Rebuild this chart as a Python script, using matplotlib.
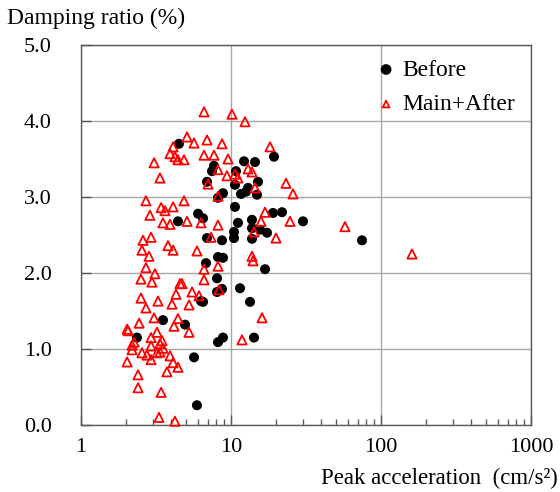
import matplotlib
matplotlib.use("Agg")
import matplotlib.pyplot as plt
from matplotlib.ticker import FixedLocator, FixedFormatter, LogLocator, NullFormatter

plt.rcParams['font.family'] = ['Liberation Serif', 'DejaVu Serif']

# Peak acceleration (cm/s^2) and damping ratio (%) before the main shock
before_acc = [4.50, 7.70, 7.47, 10.80, 12.21, 14.45, 19.35, 6.92, 10.63, 15.14,
              12.99, 12.59, 11.66, 14.91, 8.84, 8.19, 10.63, 6.03, 6.51, 4.43,
              19.05, 21.88, 30.2, 11.13, 13.8, 13.8, 15.61, 17.38, 10.47, 10.47,
              8.71, 13.8, 6.92, 8.19, 8.84, 6.81, 16.86, 8.07, 11.48, 8.07,
              8.71, 6.31, 6.51, 13.39, 3.52, 4.94, 2.36, 5.67, 5.93, 14.23,
              8.19, 8.84, 74.7]
before_damp = [3.70, 3.41, 3.34, 3.34, 3.47, 3.46, 3.53, 3.20, 3.16, 3.20,
               3.12, 3.07, 3.04, 3.03, 3.05, 2.99, 2.87, 2.78, 2.72, 2.68,
               2.79, 2.80, 2.68, 2.66, 2.70, 2.59, 2.57, 2.53, 2.54, 2.46,
               2.43, 2.45, 2.46, 2.21, 2.20, 2.13, 2.05, 1.93, 1.80, 1.75,
               1.79, 1.63, 1.62, 1.62, 1.38, 1.32, 1.15, 0.89, 0.26, 1.15,
               1.09, 1.15, 2.43]

# Main shock and aftershocks
after_acc = [6.61, 10.15, 12.4, 5.09, 5.67, 6.92, 8.71, 4.11, 3.92, 4.23,
             4.43, 4.86, 6.61, 7.70, 9.55, 18.2, 3.07, 3.36, 8.19, 12.99,
             13.8, 9.40, 10.63, 11.13, 7.03, 14.45, 23.26, 25.91, 8.19, 2.71,
             4.86, 3.42, 3.63, 4.11, 2.88, 3.52, 3.92, 5.09, 6.31, 8.19,
             16.86, 15.85, 24.74, 14.23, 7.36, 19.95, 2.93, 2.59, 3.80, 4.11,
             2.55, 2.84, 5.93, 13.8, 14.02, 8.19, 2.71, 3.11, 2.51, 2.97,
             6.61, 6.61, 4.57, 4.71, 5.50, 4.30, 6.12, 2.51, 3.26, 2.71,
             4.04, 5.25, 8.32, 3.07, 2.44, 4.43, 4.17, 5.25, 2.06, 2.03,
             3.21, 2.93, 2.26, 3.47, 3.36, 2.19, 2.93, 3.52, 2.19, 3.36,
             2.55, 2.75, 3.21, 3.92, 2.93, 4.11, 4.43, 2.03, 3.74, 2.40,
             2.40, 3.42, 3.31, 4.23, 16.10, 11.84, 57.5, 161.0]
after_damp = [4.12, 4.09, 3.99, 3.79, 3.71, 3.75, 3.70, 3.66, 3.57, 3.53,
              3.49, 3.49, 3.55, 3.55, 3.50, 3.66, 3.45, 3.25, 3.36, 3.37,
              3.33, 3.28, 3.30, 3.25, 3.17, 3.12, 3.18, 3.04, 3.01, 2.95,
              2.95, 2.86, 2.82, 2.87, 2.76, 2.66, 2.64, 2.68, 2.66, 2.63,
              2.80, 2.68, 2.68, 2.54, 2.47, 2.46, 2.47, 2.43, 2.36, 2.30,
              2.30, 2.22, 2.29, 2.22, 2.16, 2.09, 2.07, 1.99, 1.92, 1.88,
              2.05, 1.91, 1.86, 1.86, 1.75, 1.72, 1.70, 1.67, 1.63, 1.54,
              1.59, 1.58, 1.78, 1.41, 1.34, 1.40, 1.30, 1.22, 1.24, 1.26,
              1.22, 1.15, 1.09, 1.11, 1.07, 1.05, 1.04, 1.01, 0.99, 0.96,
              0.95, 0.92, 0.95, 0.91, 0.86, 0.82, 0.76, 0.83, 0.70, 0.66,
              0.49, 0.43, 0.10, 0.05, 1.41, 1.12, 2.61, 2.25]

x_ticks = [1, 10, 100, 1000]
x_tick_labels = ["1", "10", "100", "1000"]
y_ticks = [0.0, 1.0, 2.0, 3.0, 4.0, 5.0]
y_tick_labels = ["0.0", "1.0", "2.0", "3.0", "4.0", "5.0"]

fig = plt.figure(figsize=(5.6, 4.92), dpi=100)
ax = fig.add_axes([81 / 560, 67 / 492, 450 / 560, 380 / 492])

ax.set_xscale('log')
ax.set_xlim(1, 1000)
ax.set_ylim(0, 5.0)

ax.grid(True, which='major', color='#a6a6a6', linewidth=1.0)
ax.set_axisbelow(True)

ax.scatter(before_acc, before_damp, s=52, marker='o', color='black',
           edgecolors='none', zorder=3, label='Before')
ax.scatter(after_acc, after_damp, s=44, marker='^', facecolors='none',
           edgecolors='#ff0000', linewidths=1.3, zorder=4, clip_on=False,
           label='Main+After')

ax.xaxis.set_major_locator(FixedLocator(x_ticks))
ax.xaxis.set_major_formatter(FixedFormatter(x_tick_labels))
ax.xaxis.set_minor_locator(LogLocator(base=10, subs=range(2, 10)))
ax.xaxis.set_minor_formatter(NullFormatter())
ax.yaxis.set_major_locator(FixedLocator(y_ticks))
ax.yaxis.set_major_formatter(FixedFormatter(y_tick_labels))

ax.tick_params(axis='x', which='major', direction='in', length=7, width=1,
               color='#595959', labelsize=16, pad=9)
ax.tick_params(axis='x', which='minor', direction='in', length=4, width=1,
               color='#595959')
ax.tick_params(axis='y', which='major', direction='in', length=7, width=1,
               color='#595959', labelsize=16, pad=21)
for side in ax.spines.values():
    side.set_color('#595959')
    side.set_linewidth(1.0)

leg = ax.legend(loc='upper left', bbox_to_anchor=(0.615, 1.0), frameon=False,
                fontsize=17, handletextpad=0.1, handlelength=1.2,
                labelspacing=0.55, borderaxespad=0.2)
leg.legend_handles[0].set_sizes([60])
leg.legend_handles[1].set_sizes([24])

fig.text(7 / 560, 1 - 18 / 492, 'Damping ratio (%)', ha='left', va='center',
         fontsize=17)
fig.text(558 / 560, 1 - 478 / 492, 'Peak acceleration  (cm/s²)', ha='right',
         va='center', fontsize=16.4)

fig.savefig('out.png', dpi=100)
